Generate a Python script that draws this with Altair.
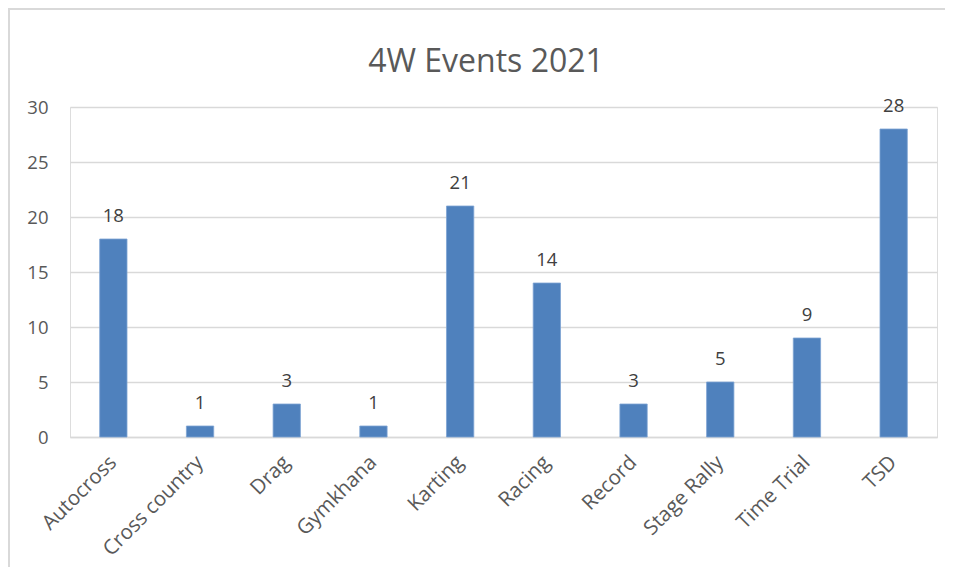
import altair as alt
import pandas as pd

categories = ["Autocross", "Cross country", "Drag", "Gymkhana", "Karting",
              "Racing", "Record", "Stage Rally", "Time Trial", "TSD"]
values = [18, 1, 3, 1, 21, 14, 3, 5, 9, 28]
y_ticks = [0, 5, 10, 15, 20, 25, 30]
title_text = ["4W Events 2021"]

df = pd.DataFrame({"category": categories, "value": values})
tdf = pd.DataFrame({"t": title_text})

FONT = "Open Sans"
GRAY = "#595959"

x_enc = alt.X("category:N", sort=categories, title=None,
              scale=alt.Scale(paddingInner=0.685, paddingOuter=0.3425),
              axis=alt.Axis(labelAngle=-45, labelAlign="right", labelBaseline="middle",
                            labelFontSize=20.5, labelColor=GRAY, labelFont=FONT,
                            labelPadding=22, ticks=False, domainColor="#d9d9d9",
                            domainWidth=1.5, labelLimit=300))
y_enc = alt.Y("value:Q", title=None,
              scale=alt.Scale(domain=[0, 30]),
              axis=alt.Axis(values=y_ticks, labelFontSize=18.5, labelColor=GRAY,
                            labelFont=FONT, ticks=False, domain=False,
                            gridColor="#d9d9d9", gridWidth=1.5, labelPadding=22))

bars = alt.Chart(df).mark_bar(color="#4f81bd", stroke="#7ea3d3", strokeWidth=0.8).encode(
    x=x_enc, y=y_enc)

labels = alt.Chart(df).mark_text(baseline="alphabetic", dy=-17, fontSize=18.5,
                                 font=FONT, color="#404040").encode(
    x=alt.X("category:N", sort=categories),
    y="value:Q",
    text="value:Q")

title = alt.Chart(tdf).mark_text(fontSize=32, font=FONT, color=GRAY,
                                 baseline="alphabetic", align="center").encode(
    x=alt.value(416), y=alt.value(-35), text="t:N")

border_top = alt.Chart(df).mark_rule(color="#d9d9d9", strokeWidth=2, clip=False).encode(
    x=alt.value(-62), x2=alt.value(900), y=alt.value(-98))
border_left = alt.Chart(df).mark_rule(color="#d9d9d9", strokeWidth=2, clip=False).encode(
    x=alt.value(-61), y=alt.value(-98), y2=alt.value(480))

chart = alt.layer(bars, labels, title, border_top, border_left).properties(
    width=867, height=330,
    autosize=alt.AutoSizeParams(type="none"),
    padding={"left": 62, "top": 99, "right": 8, "bottom": 130},
).configure_view(stroke=None).configure(background="white")

chart.save("out.html", embed_options={"renderer": "svg", "actions": False})
